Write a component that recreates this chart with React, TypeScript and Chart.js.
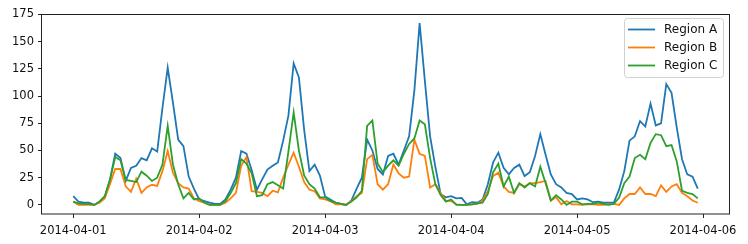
import React, { useEffect, useRef } from 'react';
import { Chart, registerables } from 'chart.js';

Chart.register(...registerables);

// Hourly values, 2014-04-01 00:00 .. 2014-04-05 23:00
const regionA = [
  8, 3, 2, 2, 0, 3, 7, 23, 47, 43, 22, 34, 36, 43, 41, 52, 49, 89, 126, 94, 60, 54, 26, 15,
  5, 3.5, 2, 1, 1, 5, 14, 25, 49.5, 47, 32, 14, 23.5, 32.5, 36, 39, 59, 82, 130, 117, 69, 31, 37, 27,
  7.6, 5, 2, 1, 0, 4, 15, 25, 60, 50, 33, 28, 45, 47, 37, 50, 63, 105, 167, 114, 63, 35, 10, 7,
  8, 6, 6.5, 0.5, 2.6, 2, 5, 19, 39, 48, 34, 28, 34, 37, 26.5, 30, 45, 65, 46, 28, 19, 16, 11, 10,
  5, 6, 5, 2.5, 3, 2, 2, 2, 14, 31, 59, 63, 77, 72, 93, 73, 75, 111, 103, 71, 42, 28, 26, 15,
];
const regionB = [
  3, 0, 0, 0, 0, 2, 6, 19, 33, 33, 17, 12, 24, 11, 16, 18.5, 17.5, 31, 49.5, 29.5, 20, 16, 15, 6,
  3.5, 2, 0, 0, 0, 2, 6, 11, 36, 44, 12.6, 12, 11, 8, 13, 11.5, 25, 37, 48, 35, 21, 14, 12.6, 6,
  5, 3.5, 0.5, 0.5, 0, 3.5, 8, 11, 42, 46, 19, 14, 19, 37, 29, 25, 26, 60, 47, 45, 16, 19, 11, 4,
  3.5, 0.5, 0, 0, 0.5, 1, 4, 12.6, 26.5, 29.6, 17, 12, 11, 19, 17, 20, 20, 21, 22, 4, 7, 0.5, 3.5, 0.5,
  0.5, 0, 0.5, 0.5, 0, 0, 0.5, 1, 0, 6, 10, 10, 16, 10, 10, 8, 18, 12, 17, 19, 11, 8, 4, 2,
];
const regionC = [
  3, 1.5, 1, 1, 0, 3, 8, 23, 44, 41, 23, 22, 21, 30.5, 26.8, 22, 25, 37, 72.5, 37, 19, 6, 11, 5,
  6, 2, 0, 0, 0, 3.5, 11, 20, 42, 38, 29, 8, 9, 19, 21, 18, 15, 49, 85, 50, 27, 19, 15, 7,
  7, 3.5, 2, 1, 0, 3, 7, 13, 72.5, 77.6, 38, 30, 36, 41, 36, 47, 56, 61, 77.6, 74, 43, 19, 9, 3,
  5, 0, 0, 0, 0.5, 1.5, 2, 10, 30, 38, 17, 26, 11, 20, 16, 20, 17, 35, 20, 4, 9, 5, 0, 3,
  3, 0.5, 1, 1, 2, 1, 0, 1, 6.6, 20, 26, 43, 46, 42, 57, 65, 64, 54, 55, 40, 13, 11, 10, 6,
];

const seriesNames = ['Region A', 'Region B', 'Region C'];
const seriesColors = ['#1f77b4', '#ff7f0e', '#2ca02c'];

const xTickHours = [0, 24, 48, 72, 96, 120];
const xTickLabels = ['2014-04-01', '2014-04-02', '2014-04-03', '2014-04-04', '2014-04-05', '2014-04-06'];
const yTicks = [0, 25, 50, 75, 100, 125, 150, 175];

const FONT = 'DejaVu Sans';
const FONT_SIZE = 11.5;

const toPoints = (arr: number[]) => arr.map((v, i) => ({ x: i, y: v }));

const framePlugin = {
  id: 'frameAndLegend',
  afterDraw(chart: any) {
    const ctx = chart.ctx;
    const a = chart.chartArea;
    ctx.save();
    // axes frame
    ctx.strokeStyle = '#222';
    ctx.lineWidth = 1;
    ctx.strokeRect(Math.round(a.left) - 0.5, Math.round(a.top) + 0.5, Math.round(a.right - a.left) + 1, Math.round(a.bottom - a.top) - 0.5);

    // legend
    const bx = 624.5, by = 18.5, bw = 99, bh = 59, r = 3;
    ctx.beginPath();
    ctx.moveTo(bx + r, by);
    ctx.lineTo(bx + bw - r, by);
    ctx.arcTo(bx + bw, by, bx + bw, by + r, r);
    ctx.lineTo(bx + bw, by + bh - r);
    ctx.arcTo(bx + bw, by + bh, bx + bw - r, by + bh, r);
    ctx.lineTo(bx + r, by + bh);
    ctx.arcTo(bx, by + bh, bx, by + bh - r, r);
    ctx.lineTo(bx, by + r);
    ctx.arcTo(bx, by, bx + r, by, r);
    ctx.closePath();
    ctx.fillStyle = 'rgba(255,255,255,0.85)';
    ctx.fill();
    ctx.strokeStyle = '#d0d0d0';
    ctx.lineWidth = 1;
    ctx.stroke();

    const rows = [29.5, 47.5, 65.5];
    chart.data.datasets.forEach((ds: any, i: number) => {
      const y = rows[i];
      ctx.strokeStyle = ds.borderColor;
      ctx.lineWidth = 1.8;
      ctx.beginPath();
      ctx.moveTo(628, y);
      ctx.lineTo(655, y);
      ctx.stroke();
      ctx.fillStyle = '#111';
      ctx.font = `${FONT_SIZE + 0.5}px "${FONT}"`;
      ctx.textBaseline = 'middle';
      ctx.textAlign = 'left';
      ctx.fillText(ds.label, 664, y + 0.5);
    });
    ctx.restore();
  },
};

export default function App() {
  const ref = useRef<HTMLCanvasElement | null>(null);

  useEffect(() => {
    if (!ref.current) return;
    Chart.defaults.font.family = FONT;
    const series = [regionA, regionB, regionC];
    const chart = new Chart(ref.current, {
      type: 'line',
      data: {
        datasets: series.map((s, i) => ({
          label: seriesNames[i],
          data: toPoints(s),
          borderColor: seriesColors[i],
          backgroundColor: seriesColors[i],
          borderWidth: 1.8,
          pointRadius: 0,
          tension: 0,
          fill: false,
          order: 3 - i,
        })),
      },
      options: {
        animation: false,
        responsive: false,
        events: [],
        layout: { padding: { left: 0, top: 14, right: 19, bottom: 0 } },
        plugins: { legend: { display: false }, tooltip: { enabled: false } },
        scales: {
          x: {
            type: 'linear',
            min: -5.95,
            max: 124.95,
            afterBuildTicks: (s: any) => {
              s.ticks = xTickHours.map((v) => ({ value: v }));
            },
            afterFit: (s: any) => {
              s.height = 30;
            },
            ticks: {
              autoSkip: false,
              maxRotation: 0,
              minRotation: 0,
              padding: 6,
              color: '#111',
              font: { size: FONT_SIZE, family: FONT },
              callback: (v: any) => {
                const idx = xTickHours.indexOf(Number(v));
                return idx >= 0 ? xTickLabels[idx] : '';
              },
            },
            grid: { display: true, drawOnChartArea: false, drawTicks: true, tickLength: 4, color: '#222', lineWidth: 1 },
            border: { display: false },
          },
          y: {
            type: 'linear',
            min: -8.35,
            max: 175.35,
            afterBuildTicks: (s: any) => {
              s.ticks = yTicks.map((v) => ({ value: v }));
            },
            afterFit: (s: any) => {
              s.width = 42;
            },
            ticks: {
              padding: 4,
              color: '#111',
              font: { size: FONT_SIZE, family: FONT },
              callback: (v: any) => String(v),
            },
            grid: { display: true, drawOnChartArea: false, drawTicks: true, tickLength: 4, color: '#222', lineWidth: 1 },
            border: { display: false },
          },
        },
      },
      plugins: [framePlugin],
    } as any);
    return () => chart.destroy();
  }, []);

  return (
    <div style={{ position: 'fixed', left: 0, top: 0, width: 748, height: 244, background: '#fff' }}>
      <canvas ref={ref} width={748} height={244} style={{ width: 748, height: 244, display: 'block' }} />
    </div>
  );
}
